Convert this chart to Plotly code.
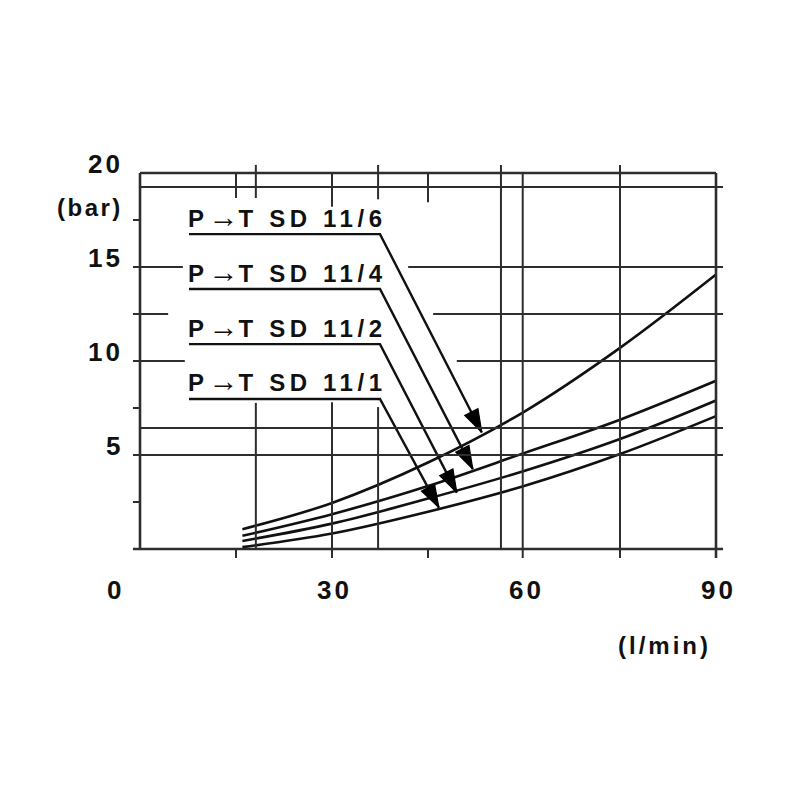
import plotly.graph_objects as go

# ---- data ----
flow_lpm = [16, 30, 45, 60, 75, 90]
dp_sd11_6 = [1.05, 2.45, 4.6, 7.3, 10.7, 14.6]
dp_sd11_4 = [0.7, 1.85, 3.35, 5.1, 6.88, 8.95]
dp_sd11_2 = [0.43, 1.35, 2.68, 4.15, 5.85, 7.9]
dp_sd11_1 = [0.1, 0.82, 1.98, 3.35, 5.05, 7.07]

series_labels = ["P→T SD 11/6", "P→T SD 11/4", "P→T SD 11/2", "P→T SD 11/1"]
label_line_y = [16.75, 13.83, 10.9, 7.98]
arrow_tip_x = [53.4, 52.0, 49.5, 46.7]
arrow_tip_y = [6.2, 4.25, 3.0, 2.2]

x_tick_vals = [0, 30, 60, 90]
x_tick_text = ["0", "30", "60", "90"]
y_tick_vals = [5, 10, 15, 20]
y_tick_text = ["5", "10", "15", "20"]
x_unit = "(l/min)"
y_unit = "(bar)"

INK = "#111111"
GRID = "#2e2e2e"
FONT = "Liberation Sans, Arial, Helvetica, sans-serif"


def spaced(t, px):
    return f'<span style="letter-spacing:{px}px">{t}</span>'


def label_html(t):
    # draw the small arrow of the label a little larger, like the original artwork
    a, b = t.split("→")
    return (f'<span style="letter-spacing:4.6px">{a}</span>'
            f'<span style="font-size:30px">→</span>'
            f'<span style="letter-spacing:4.6px">{b}</span>')


fig = go.Figure()

for ys in [dp_sd11_6, dp_sd11_4, dp_sd11_2, dp_sd11_1]:
    fig.add_trace(go.Scatter(x=flow_lpm, y=ys, mode="lines",
                             line=dict(color=INK, width=2.6, shape="spline", smoothing=1.0),
                             hoverinfo="skip"))

# label underline + leader + arrow head
label_x0, label_x1 = 7.66, 37.5
for ly, tx, ty, txt in zip(label_line_y, arrow_tip_x, arrow_tip_y, series_labels):
    fig.add_trace(go.Scatter(x=[label_x0, label_x1, tx], y=[ly, ly, ty], mode="lines+markers",
                             line=dict(color=INK, width=2.4),
                             marker=dict(symbol="arrow", size=[0, 0, 24], color="#000000",
                                         opacity=1, angleref="previous",
                                         line=dict(width=1.2, color="#000000")),
                             hoverinfo="skip"))
    fig.add_annotation(x=label_x0, y=ly, xref="x", yref="y", text=label_html(txt),
                       showarrow=False, xanchor="left", yanchor="middle", yshift=18, xshift=-3,
                       font=dict(family=FONT, size=24, color=INK, weight="bold"))

# grid / frame segments
shapes = []


def hseg(y, x0, x1, w=2):
    shapes.append(dict(type="line", xref="x", yref="y", x0=x0, x1=x1, y0=y, y1=y,
                       line=dict(color=GRID, width=w)))


def vseg(x, y0, y1, w=2):
    shapes.append(dict(type="line", xref="x", yref="y", x0=x, x1=x, y0=y0, y1=y1,
                       line=dict(color=GRID, width=w)))


hseg(20, 0, 90, 2.6)
hseg(19.25, 0, 91.1)
hseg(17.5, -1.1, 0)
hseg(15, -1.1, 6.7); hseg(15, 41.9, 91.1)
hseg(12.5, -1.1, 4.4); hseg(12.5, 45.8, 91.1)
hseg(10, -1.1, 7.0); hseg(10, 49.5, 90)
hseg(7.5, -1.1, 0)
hseg(6.44, 0, 91.1)
hseg(5, -1.1, 91.1)
hseg(2.5, -1.1, 0)
hseg(0, -1.1, 91.1, 2.6)

vseg(0, 0, 20, 2.6)
vseg(15, -0.48, 0); vseg(15, 18.67, 20)
vseg(18.1, 0, 7.77); vseg(18.1, 18.67, 20.43)
vseg(30, -0.48, 7.8); vseg(30, 18.2, 20)
vseg(37.2, 0, 7.55); vseg(37.2, 18.6, 20.43)
vseg(45, -0.48, 0); vseg(45, 18.45, 20)
vseg(56.4, 0, 20.43)
vseg(59.8, -0.48, 20)
vseg(75, -0.48, 20.43)
vseg(90, -0.48, 20, 2.6)

# tick labels
for v, t in zip(y_tick_vals, y_tick_text):
    fig.add_annotation(x=0, y=v, xref="x", yref="y", text=spaced(t, 3), showarrow=False,
                       xanchor="right", yanchor="middle", xshift=-15, yshift=9,
                       font=dict(family=FONT, size=26, color=INK, weight="bold"))
for v, t in zip(x_tick_vals, x_tick_text):
    fig.add_annotation(x=v, y=0, xref="x", yref="y", text=spaced(t, 3), showarrow=False,
                       xanchor="center", yanchor="middle", yshift=-41,
                       xshift=(-25 if v == 0 else 2),
                       font=dict(family=FONT, size=26, color=INK, weight="bold"))
fig.add_annotation(x=0, y=18.15, xref="x", yref="y", text=spaced(y_unit, 2.5), showarrow=False,
                   xanchor="right", yanchor="middle", xshift=-15,
                   font=dict(family=FONT, size=24, color=INK, weight="bold"))
fig.add_annotation(x=90, y=0, xref="x", yref="y", text=spaced(x_unit, 3), showarrow=False,
                   xanchor="right", yanchor="middle", xshift=-3, yshift=-96,
                   font=dict(family=FONT, size=24, color=INK, weight="bold"))

fig.update_layout(
    width=800, height=800,
    margin=dict(l=100, r=60, t=118, b=212),
    paper_bgcolor="white", plot_bgcolor="white",
    showlegend=False,
    shapes=shapes,
    xaxis=dict(range=[-5, 95], showgrid=False, zeroline=False, showticklabels=False,
               ticks="", showline=False, fixedrange=True),
    yaxis=dict(range=[-2.5, 22.5], showgrid=False, zeroline=False, showticklabels=False,
               ticks="", showline=False, fixedrange=True),
)

fig.write_html("out.html")
